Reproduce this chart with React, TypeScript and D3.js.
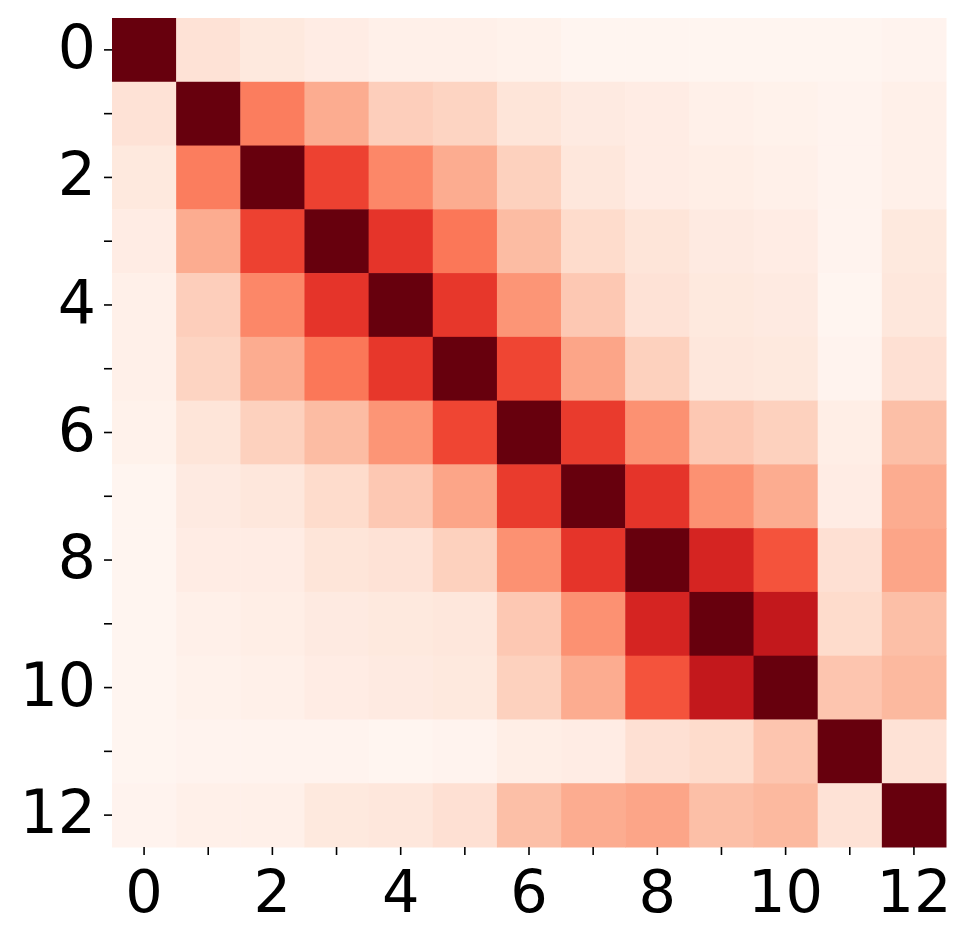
import React from "react";
import * as d3 from "d3";

const labels: number[] = [0, 1, 2, 3, 4, 5, 6, 7, 8, 9, 10, 11, 12];
const tickLabels: number[] = [0, 2, 4, 6, 8, 10, 12];

const row0 = [1.0, 0.12, 0.09, 0.07, 0.05, 0.05, 0.04, 0.02, 0.02, 0.02, 0.02, 0.02, 0.03];
const row1 = [0.12, 1.0, 0.45, 0.31, 0.2, 0.18, 0.11, 0.08, 0.07, 0.05, 0.04, 0.03, 0.05];
const row2 = [0.09, 0.45, 1.0, 0.62, 0.42, 0.31, 0.19, 0.1, 0.07, 0.06, 0.05, 0.03, 0.05];
const row3 = [0.07, 0.31, 0.62, 1.0, 0.66, 0.47, 0.26, 0.15, 0.11, 0.08, 0.07, 0.03, 0.09];
const row4 = [0.05, 0.2, 0.42, 0.66, 1.0, 0.65, 0.38, 0.22, 0.12, 0.09, 0.08, 0.02, 0.1];
const row5 = [0.05, 0.18, 0.31, 0.47, 0.65, 1.0, 0.61, 0.33, 0.19, 0.1, 0.09, 0.03, 0.13];
const row6 = [0.04, 0.11, 0.19, 0.26, 0.38, 0.61, 1.0, 0.64, 0.39, 0.22, 0.19, 0.06, 0.25];
const row7 = [0.02, 0.08, 0.1, 0.15, 0.22, 0.33, 0.64, 1.0, 0.66, 0.39, 0.31, 0.07, 0.31];
const row8 = [0.02, 0.07, 0.07, 0.11, 0.12, 0.19, 0.39, 0.66, 1.0, 0.72, 0.57, 0.13, 0.33];
const row9 = [0.02, 0.05, 0.06, 0.08, 0.09, 0.1, 0.22, 0.39, 0.72, 1.0, 0.78, 0.15, 0.25];
const row10 = [0.02, 0.04, 0.05, 0.07, 0.08, 0.09, 0.19, 0.31, 0.57, 0.78, 1.0, 0.23, 0.27];
const row11 = [0.02, 0.03, 0.03, 0.03, 0.02, 0.03, 0.06, 0.07, 0.13, 0.15, 0.23, 1.0, 0.12];
const row12 = [0.03, 0.05, 0.05, 0.09, 0.1, 0.13, 0.25, 0.31, 0.33, 0.25, 0.27, 0.12, 1.0];

const matrix: number[][] = [row0, row1, row2, row3, row4, row5, row6, row7, row8, row9, row10, row11, row12];

const W = 970;
const H = 941;
const left = 112;
const right = 946;
const top = 18;
const bottom = 847;

export default function App() {
  const x = d3.scaleBand<number>().domain(labels).range([left, right]).padding(0);
  const y = d3.scaleBand<number>().domain(labels).range([top, bottom]).padding(0);
  const vmin = d3.min(matrix.flat()) as number;
  const color = d3.scaleSequential(d3.interpolateReds).domain([vmin, 1]);
  const font = "DejaVu Sans, sans-serif";
  return (
    <svg width={W} height={H} style={{ position: "absolute", left: 0, top: 0, background: "#fff" }}>
      <g>
        {matrix.map((row, i) =>
          row.map((v, j) => (
            <rect
              key={`${i}-${j}`}
              x={x(labels[j])}
              y={y(labels[i])}
              width={x.bandwidth() + 0.5}
              height={y.bandwidth() + 0.5}
              fill={color(v)}
            />
          ))
        )}
      </g>
      <g>
        {labels.map((l) => {
          const cy = (y(l) as number) + y.bandwidth() / 2;
          return <line key={`yt${l}`} x1={left - 8} x2={left} y1={cy} y2={cy} stroke="#000" strokeWidth={1.6} />;
        })}
        {labels.map((l) => {
          const cx = (x(l) as number) + x.bandwidth() / 2;
          return <line key={`xt${l}`} x1={cx} x2={cx} y1={bottom} y2={bottom + 8} stroke="#000" strokeWidth={1.6} />;
        })}
      </g>
      <g fontFamily={font} fill="#000">
        {tickLabels.map((l) => {
          const cy = (y(l) as number) + y.bandwidth() / 2;
          return (
            <text key={`yl${l}`} x={left - 16} y={cy + 18} textAnchor="end" fontSize={60}>
              {l}
            </text>
          );
        })}
        {tickLabels.map((l) => {
          const cx = (x(l) as number) + x.bandwidth() / 2;
          return (
            <text key={`xl${l}`} x={cx} y={912} textAnchor="middle" fontSize={59}>
              {l}
            </text>
          );
        })}
      </g>
    </svg>
  );
}
